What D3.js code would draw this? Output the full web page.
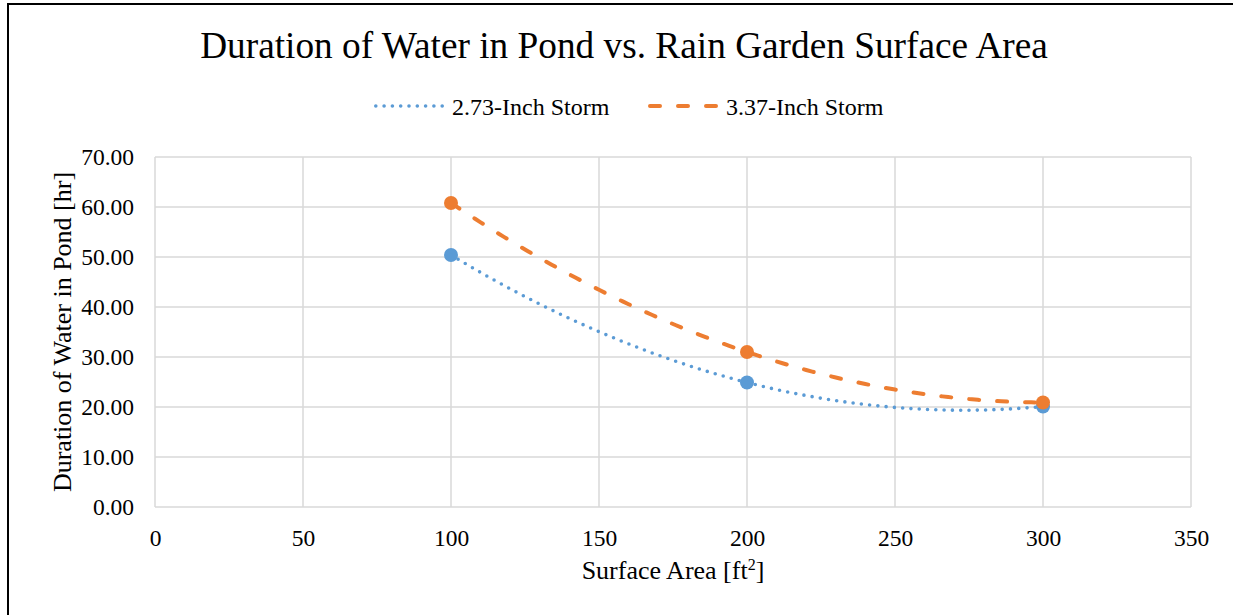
<!DOCTYPE html>
<html>
<head>
<meta charset="utf-8">
<script src="https://cdn.jsdelivr.net/npm/d3@7"></script>
<style>
  body { margin: 0; background: #fff; }
  svg { display: block; font-family: 'Liberation Serif', 'Times New Roman', serif; }
  .grid line { stroke: #d9d9d9; stroke-width: 1.5; }
  .tick text { fill: #000; font-size: 23.5px; font-family: 'Liberation Serif', 'Times New Roman', serif; }
</style>
</head>
<body>
<div id="chart"></div>
<script>
const area = [100, 200, 300];
const storm273 = [50.4, 24.9, 20.1];
const storm337 = [60.8, 31.0, 20.9];
const seriesNames = ['2.73-Inch Storm', '3.37-Inch Storm'];
const xTicks = [0, 50, 100, 150, 200, 250, 300, 350];
const yTicks = [0, 10, 20, 30, 40, 50, 60, 70];

const width = 1233,
  height = 615;
const margin = { left: 155, right: 42, top: 157, bottom: 108 };

const svg = d3
  .select('#chart')
  .append('svg')
  .attr('width', width)
  .attr('height', height);

// chart frame (runs off the right and bottom edge in the picture)
svg
  .append('rect')
  .attr('x', 8)
  .attr('y', 4)
  .attr('width', 1400)
  .attr('height', 800)
  .attr('fill', 'none')
  .attr('stroke', '#000')
  .attr('stroke-width', 2);

const x = d3
  .scaleLinear()
  .domain([0, 350])
  .range([margin.left, width - margin.right]);
const y = d3
  .scaleLinear()
  .domain([0, 70])
  .range([height - margin.bottom, margin.top]);

// gridlines
svg
  .append('g')
  .attr('class', 'grid')
  .selectAll('line.h')
  .data(yTicks)
  .enter()
  .append('line')
  .attr('x1', x(0))
  .attr('x2', x(350))
  .attr('y1', (d) => y(d))
  .attr('y2', (d) => y(d));

svg
  .append('g')
  .attr('class', 'grid')
  .selectAll('line.v')
  .data(xTicks)
  .enter()
  .append('line')
  .attr('y1', y(0))
  .attr('y2', y(70))
  .attr('x1', (d) => x(d))
  .attr('x2', (d) => x(d));

// axes, labels only
const xAxis = svg
  .append('g')
  .attr('transform', `translate(0,${y(0)})`)
  .call(d3.axisBottom(x).tickValues(xTicks).tickSize(0).tickPadding(22));
const yAxis = svg
  .append('g')
  .attr('transform', `translate(${x(0)},0)`)
  .call(
    d3.axisLeft(y).tickValues(yTicks).tickFormat(d3.format('.2f')).tickSize(0).tickPadding(21)
  );
[xAxis, yAxis].forEach((a) => {
  a.attr('font-family', null).attr('font-size', null);
  a.select('.domain').remove();
  a.selectAll('text').style('font-family', "'Liberation Serif', serif");
});
yAxis.selectAll('text').attr('dy', '0.33em');

// order-2 polynomial trendline through the points
function trend(xs, ys) {
  return (t) =>
    ys.reduce((s, yi, i) => {
      let p = yi;
      xs.forEach((xj, j) => {
        if (j !== i) p *= (t - xj) / (xs[i] - xj);
      });
      return s + p;
    }, 0);
}

const samples = d3.range(area[0], area[area.length - 1] + 0.001, 2);
const line = d3
  .line()
  .x((d) => x(d[0]))
  .y((d) => y(d[1]));

const series = [
  { name: seriesNames[0], values: storm273, color: '#5b9bd5', dash: '0 8.3', w: 3.6 },
  { name: seriesNames[1], values: storm337, color: '#ed7d31', dash: '10 18', w: 4 },
];

series.forEach((s) => {
  const f = trend(area, s.values);
  const g = svg.append('g');
  g.selectAll('circle')
    .data(area)
    .enter()
    .append('circle')
    .attr('cx', (d) => x(d))
    .attr('cy', (d, i) => y(s.values[i]))
    .attr('r', 7)
    .attr('fill', s.color);
  g.append('path')
    .datum(samples.map((t) => [t, f(t)]))
    .attr('d', line)
    .attr('fill', 'none')
    .attr('stroke', s.color)
    .attr('stroke-width', s.w)
    .attr('stroke-linecap', 'round')
    .attr('stroke-dasharray', s.dash);
});

// title
svg
  .append('text')
  .attr('x', 624)
  .attr('y', 58)
  .attr('text-anchor', 'middle')
  .style('font-size', '37.3px')
  .text('Duration of Water in Pond vs. Rain Garden Surface Area');

// legend
const legendPos = [374, 648];
const legendItem = svg
  .append('g')
  .selectAll('g')
  .data(series)
  .enter()
  .append('g')
  .attr('transform', (d, i) => `translate(${legendPos[i]},106)`);

legendItem
  .append('line')
  .attr('x1', (d) => d.w / 2)
  .attr('x2', 70)
  .attr('stroke', (d) => d.color)
  .attr('stroke-width', (d) => d.w)
  .attr('stroke-linecap', 'round')
  .attr('stroke-dasharray', (d) => d.dash);

legendItem
  .append('text')
  .attr('x', 78)
  .attr('y', 9)
  .style('font-size', '24px')
  .text((d) => d.name);

// axis titles
const xTitle = svg
  .append('text')
  .attr('x', (x(0) + x(350)) / 2)
  .attr('y', 579)
  .attr('text-anchor', 'middle')
  .style('font-size', '26px');
xTitle.append('tspan').text('Surface Area [ft');
xTitle.append('tspan').attr('dy', -9).style('font-size', '16px').text('2');
xTitle.append('tspan').attr('dy', 9).text(']');

svg
  .append('text')
  .attr('transform', `translate(71,${(y(0) + y(70)) / 2}) rotate(-90)`)
  .attr('text-anchor', 'middle')
  .style('font-size', '26px')
  .text('Duration of Water in Pond [hr]');
</script>
</body>
</html>
